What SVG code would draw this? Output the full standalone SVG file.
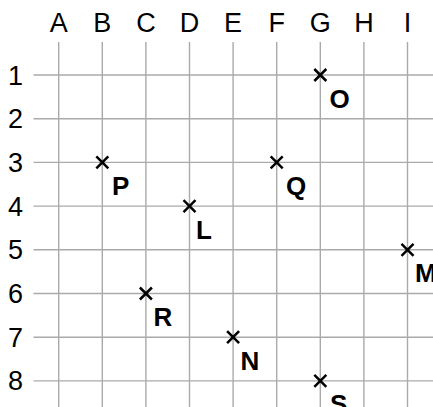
<svg xmlns="http://www.w3.org/2000/svg" width="433" height="407" viewBox="0 0 433 407">
<style>
.grid line{stroke:#aaaaaa;stroke-width:1.4}
.ax{font-family:"Liberation Sans",Arial,sans-serif;font-size:27px;fill:#000;text-anchor:middle}
.cross{stroke:#000;stroke-width:2.5;stroke-linecap:butt}
.lbl{font-family:"Liberation Sans",Arial,sans-serif;font-size:26px;font-weight:bold;fill:#000}
</style>
<defs>
<g id="x"><line class="cross" x1="-6" y1="-6" x2="6" y2="6"/><line class="cross" x1="-6" y1="6" x2="6" y2="-6"/></g>
</defs>
<rect width="433" height="407" fill="#fff"/>
<g id="grid" class="grid">
<line x1="58.7" y1="42" x2="58.7" y2="407"/>
<line x1="102.3" y1="42" x2="102.3" y2="407"/>
<line x1="145.9" y1="42" x2="145.9" y2="407"/>
<line x1="189.5" y1="42" x2="189.5" y2="407"/>
<line x1="233.1" y1="42" x2="233.1" y2="407"/>
<line x1="276.7" y1="42" x2="276.7" y2="407"/>
<line x1="320.3" y1="42" x2="320.3" y2="407"/>
<line x1="363.9" y1="42" x2="363.9" y2="407"/>
<line x1="407.5" y1="42" x2="407.5" y2="407"/>
<line x1="33.5" y1="75" x2="433" y2="75"/>
<line x1="33.5" y1="118.7" x2="433" y2="118.7"/>
<line x1="33.5" y1="162.4" x2="433" y2="162.4"/>
<line x1="33.5" y1="206.1" x2="433" y2="206.1"/>
<line x1="33.5" y1="249.8" x2="433" y2="249.8"/>
<line x1="33.5" y1="293.5" x2="433" y2="293.5"/>
<line x1="33.5" y1="337.2" x2="433" y2="337.2"/>
<line x1="33.5" y1="380.9" x2="433" y2="380.9"/>
</g>
<g id="cols">
<text class="ax" x="58.7" y="32">A</text>
<text class="ax" x="102.3" y="32">B</text>
<text class="ax" x="145.9" y="32">C</text>
<text class="ax" x="189.5" y="32">D</text>
<text class="ax" x="233.1" y="32">E</text>
<text class="ax" x="276.7" y="32">F</text>
<text class="ax" x="320.3" y="32">G</text>
<text class="ax" x="363.9" y="32">H</text>
<text class="ax" x="407.5" y="32">I</text>
</g>
<g id="rows">
<text class="ax" x="15.5" y="84.5">1</text>
<text class="ax" x="15.5" y="128.2">2</text>
<text class="ax" x="15.5" y="171.9">3</text>
<text class="ax" x="15.5" y="215.6">4</text>
<text class="ax" x="15.5" y="259.3">5</text>
<text class="ax" x="15.5" y="303">6</text>
<text class="ax" x="15.5" y="346.7">7</text>
<text class="ax" x="15.5" y="390.4">8</text>
</g>
<g id="O"><use href="#x" x="320.3" y="75"/><text class="lbl" x="329.5" y="108">O</text></g>
<g id="P"><use href="#x" x="102.3" y="162.4"/><text class="lbl" x="112" y="195">P</text></g>
<g id="Q"><use href="#x" x="276.7" y="162.4"/><text class="lbl" x="286" y="195">Q</text></g>
<g id="L"><use href="#x" x="189.5" y="206.1"/><text class="lbl" x="196" y="238.5">L</text></g>
<g id="M"><use href="#x" x="407.5" y="249.8"/><text class="lbl" x="415" y="282">M</text></g>
<g id="R"><use href="#x" x="145.9" y="293.5"/><text class="lbl" x="153.5" y="325.5">R</text></g>
<g id="N"><use href="#x" x="233.1" y="337.2"/><text class="lbl" x="240.5" y="369.5">N</text></g>
<g id="S"><use href="#x" x="320.3" y="380.9"/><text class="lbl" x="330" y="413">S</text></g>
</svg>
